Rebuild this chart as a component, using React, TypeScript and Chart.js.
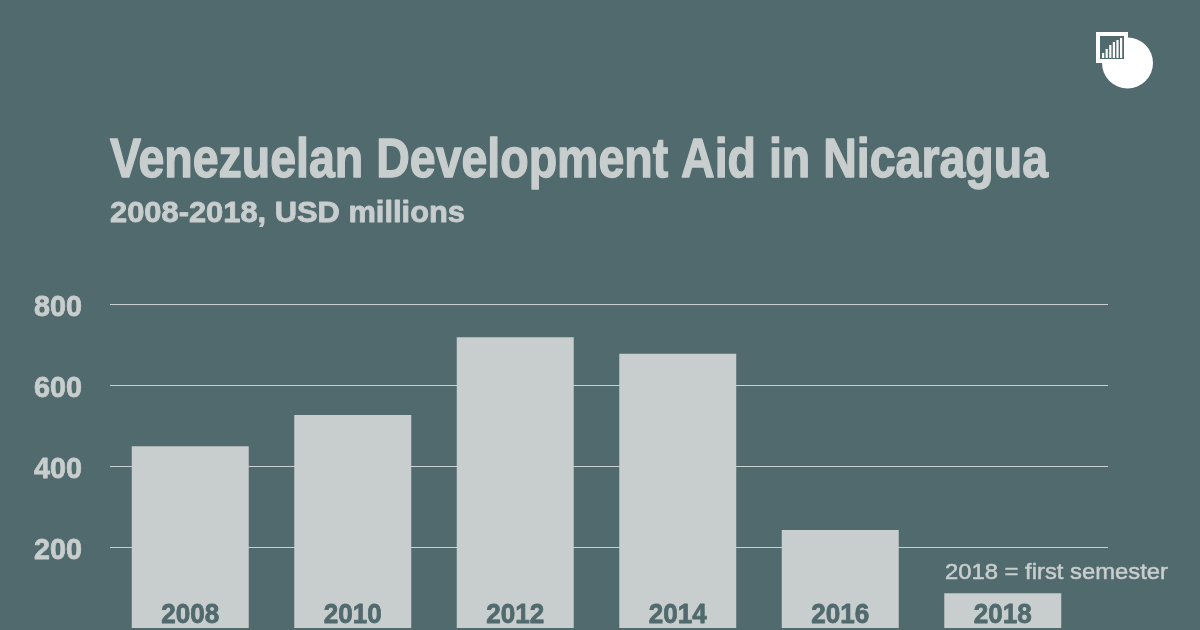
import React, { useEffect, useRef } from "react";
import { Chart, registerables } from "chart.js";

Chart.register(...registerables);

const years = ["2008", "2010", "2012", "2014", "2016", "2018"];
const aidValues = [449, 526, 718, 677, 242, 86];
const yTicks = [200, 400, 600, 800];
const titleText = "Venezuelan Development Aid in Nicaragua";
const subtitleText = "2008-2018, USD millions";
const noteText = "2018 = first semester";

const BG = "#516a6d";
const LIGHT = "#c8cdcd";
const FONT = '"Liberation Sans", Arial, sans-serif';

// draw text horizontally scaled to occupy exactly width w
const drawFit = (
  ctx: any,
  text: string,
  x: number,
  y: number,
  w: number,
  align: "left" | "right" | "center" = "left",
  bold = 0
) => {
  ctx.save();
  ctx.textAlign = "left";
  ctx.textBaseline = "alphabetic";
  const m = ctx.measureText(text).width;
  const sx = w / m;
  let left = x;
  if (align === "right") left = x - w;
  if (align === "center") left = x - w / 2;
  ctx.translate(left, y);
  ctx.scale(sx, 1);
  ctx.fillText(text, 0, 0);
  if (bold > 0) {
    ctx.strokeStyle = ctx.fillStyle;
    ctx.lineWidth = bold;
    ctx.lineJoin = "round";
    ctx.strokeText(text, 0, 0);
  }
  ctx.restore();
};

const decorPlugin = {
  id: "decor",
  beforeDatasetsDraw(chart: any) {
    const { ctx, scales } = chart;
    const y = scales.y;
    ctx.save();
    ctx.lineWidth = 1;
    yTicks.forEach((t) => {
      const py = Math.round(y.getPixelForValue(t)) + 0.5;
      ctx.strokeStyle = "#c9d0d0";
      ctx.beginPath();
      ctx.moveTo(110, py);
      ctx.lineTo(1108, py);
      ctx.stroke();
      ctx.fillStyle = LIGHT;
      ctx.font = `bold 30px ${FONT}`;
      drawFit(ctx, String(t), 82, py + 11, 48, "right", 0.8);
    });
    // Title
    ctx.fillStyle = LIGHT;
    ctx.font = `bold 55px ${FONT}`;
    drawFit(ctx, titleText, 110, 177, 938, "left", 1.4);
    ctx.font = `bold 29px ${FONT}`;
    drawFit(ctx, subtitleText, 110, 222, 355, "left", 0.8);
    // Note
    ctx.font = `22px ${FONT}`;
    drawFit(ctx, noteText, 945, 579, 223, "left", 0.5);
    // Logo
    ctx.fillStyle = "#ffffff";
    ctx.beginPath();
    ctx.arc(1127.5, 63, 25.5, 0, Math.PI * 2);
    ctx.fill();
    ctx.fillRect(1096, 32, 32, 31);
    ctx.fillStyle = BG;
    ctx.fillRect(1100, 36, 24, 23);
    ctx.fillStyle = "#ffffff";
    const hs = [5, 9, 13, 16, 18, 20];
    hs.forEach((h, i) => {
      ctx.fillRect(1102 + i * 3.6, 58 - h, 2.2, h);
    });
    ctx.restore();
  },
  afterDatasetsDraw(chart: any) {
    const { ctx, scales } = chart;
    const x = scales.x;
    ctx.save();
    ctx.fillStyle = BG;
    ctx.font = `bold 28px ${FONT}`;
    years.forEach((yr, i) => {
      drawFit(ctx, yr, x.getPixelForValue(i), 623, 58, "center", 0.8);
    });
    ctx.restore();
  },
};

export default function App() {
  const ref = useRef<HTMLCanvasElement>(null);
  useEffect(() => {
    document.body.style.margin = "0";
    document.body.style.background = BG;
    const chart = new Chart(ref.current!, {
      type: "bar",
      data: {
        labels: years,
        datasets: [
          {
            data: aidValues,
            backgroundColor: LIGHT,
            borderWidth: 0,
            barPercentage: 0.72,
            categoryPercentage: 1,
          },
        ],
      },
      options: {
        animation: false,
        responsive: false,
        maintainAspectRatio: false,
        layout: { padding: { left: 109, right: 116, top: 304, bottom: 2 } },
        plugins: { legend: { display: false }, tooltip: { enabled: false }, title: { display: false } },
        scales: {
          x: { display: false, grid: { display: false } },
          y: { display: false, min: 0, max: 800, grid: { display: false } },
        },
      },
      plugins: [
        {
          id: "bg",
          beforeDraw(c: any) {
            const g = c.ctx;
            g.save();
            g.fillStyle = BG;
            g.fillRect(0, 0, c.width, c.height);
            g.restore();
          },
        },
        decorPlugin,
      ],
    });
    return () => chart.destroy();
  }, []);
  return <canvas ref={ref} width={1200} height={630} style={{ display: "block" }} />;
}
